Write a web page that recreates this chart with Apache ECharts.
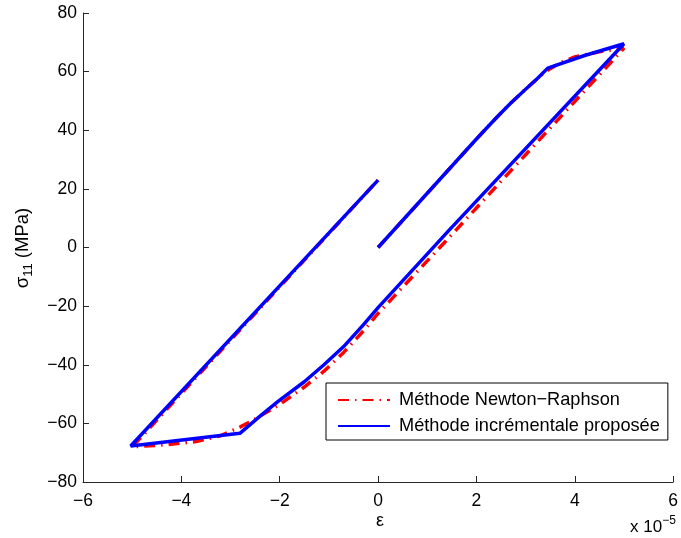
<!DOCTYPE html>
<html>
<head>
<meta charset="utf-8">
<script src="https://cdn.jsdelivr.net/npm/echarts@6/dist/echarts.min.js"></script>
<style>
html,body{margin:0;padding:0;background:#fff;}
#chart{width:681px;height:538px;}
</style>
</head>
<body>
<div id="chart"></div>
<script>
// strain in units of 1e-5, stress in MPa
const incrStrain = [0, 1.0, 2.0, 2.4, 2.7, 3.0, 3.25, 3.45, 4.2, 5.0, 1.45, 0, -0.3, -0.7, -1.1, -1.5, -2.04, -2.4, -2.81, -5.03, 0];
const incrStress = [0, 18.5, 37, 44.2, 49.3, 54, 57.8, 61.2, 65.5, 69.5, 6, -20.5, -26.4, -33.8, -40.0, -45.8, -52.6, -57.5, -63.4, -67.7, 23];
const newtonStrain = [0, 2.0, 2.4, 2.7, 3.0, 3.4, 3.7, 4.0, 4.5, 5.0, 1.45, 0, -0.3, -0.7, -1.1, -1.5, -2.04, -2.5, -2.8, -3.2, -3.7, -4.3, -5.0, 0];
const newtonStress = [0, 37, 44.2, 49.3, 54, 60, 63, 65, 66.8, 68, 3.5, -22.5, -28.5, -35.8, -42.2, -47.6, -54, -58.5, -61.2, -64.2, -66.2, -67.3, -68, 23];
const seriesNames = ['Méthode Newton−Raphson', 'Méthode incrémentale proposée'];
const xTicks = [-6, -4, -2, 0, 2, 4, 6];
const yTicks = [-80, -60, -40, -20, 0, 20, 40, 60, 80];

const zip = (a, b) => a.map((v, i) => [v, b[i]]);
const fmt = v => String(v).replace('-', '\u2212');
const FONT = 'Liberation Sans';

const chart = echarts.init(document.getElementById('chart'), null, {renderer: 'canvas'});
chart.setOption({
  animation: false,
  backgroundColor: '#fff',
  grid: {left: 83, right: 2, top: 13, bottom: 56, containLabel: false},
  xAxis: {
    type: 'value', min: xTicks[0], max: xTicks[xTicks.length - 1], interval: 2,
    axisLine: {onZero: false, lineStyle: {color: '#262626', width: 1}},
    axisTick: {inside: true, length: 6, lineStyle: {color: '#262626'}},
    splitLine: {show: false},
    axisLabel: {formatter: fmt, fontSize: 17.5, fontFamily: FONT, color: '#000', margin: 10, showMaxLabel: true, showMinLabel: true}
  },
  yAxis: {
    type: 'value', min: yTicks[0], max: yTicks[yTicks.length - 1], interval: 20,
    axisLine: {show: true, onZero: false, lineStyle: {color: '#262626', width: 1}},
    axisTick: {show: true, inside: true, length: 6, lineStyle: {color: '#262626'}},
    splitLine: {show: false},
    axisLabel: {formatter: fmt, fontSize: 17.5, fontFamily: FONT, color: '#000', margin: 6}
  },
  legend: {
    left: 326, top: 383, orient: 'vertical',
    padding: [7, 8, 4, 11],
    itemWidth: 52, itemHeight: 14, itemGap: 6,
    borderColor: '#000', borderWidth: 1, backgroundColor: '#fff',
    itemStyle: {opacity: 0},
    textStyle: {fontSize: 18.2, fontFamily: FONT, color: '#000', lineHeight: 20, padding: [0, 0, 0, 4]},
    data: seriesNames
  },
  series: [
    {
      name: seriesNames[0], type: 'line', data: zip(newtonStrain, newtonStress),
      symbol: 'none', z: 2,
      lineStyle: {color: '#ff0000', width: 3.5, type: [11, 6, 1.5, 6]},
      itemStyle: {color: '#ff0000'}
    },
    {
      name: seriesNames[1], type: 'line', data: zip(incrStrain, incrStress),
      symbol: 'none', z: 3,
      lineStyle: {color: '#0000ff', width: 3.5, type: 'solid'},
      itemStyle: {color: '#0000ff'}
    }
  ],
  graphic: [
    {type: 'text', x: 380, y: 521, style: {text: 'ε', fontSize: 18, fontFamily: FONT, fill: '#000', align: 'center', verticalAlign: 'middle'}},
    {type: 'text', x: 23, y: 248, rotation: Math.PI / 2,
     style: {text: '{a|σ}{b|11}{a| (MPa)}', fontFamily: FONT, fill: '#000', align: 'center', verticalAlign: 'middle',
       rich: {a: {fontSize: 18.5, fontFamily: FONT, lineHeight: 24, verticalAlign: 'middle'},
              b: {fontSize: 13, fontFamily: FONT, lineHeight: 24, verticalAlign: 'bottom'}}}},
    {type: 'text', x: 630, y: 527,
     style: {text: '{a|x 10}{b|−5}', fontFamily: FONT, fill: '#000', align: 'left', verticalAlign: 'middle',
       rich: {a: {fontSize: 17, fontFamily: FONT, lineHeight: 24, verticalAlign: 'middle'},
              b: {fontSize: 12, fontFamily: FONT, lineHeight: 24, verticalAlign: 'top'}}}}
  ]
});
</script>
</body>
</html>
